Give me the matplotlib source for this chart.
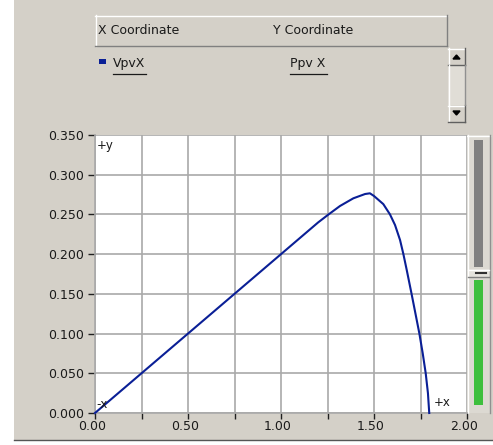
import matplotlib
matplotlib.use("Agg")
import matplotlib.pyplot as plt
from matplotlib.patches import Rectangle
from matplotlib.transforms import ScaledTranslation

# ---- data ----
vpv = [0.0, 0.25, 0.50, 0.75, 1.00, 1.20, 1.25, 1.317, 1.389, 1.452, 1.478, 1.50, 1.55,
       1.586, 1.613, 1.640, 1.658, 1.676, 1.702, 1.723, 1.744, 1.762, 1.778, 1.790, 1.797]
ppv = [0.0, 0.050, 0.100, 0.150, 0.200, 0.240, 0.249, 0.2606, 0.2703, 0.2757, 0.2766, 0.2732, 0.263,
       0.250, 0.2367, 0.2178, 0.200, 0.180, 0.150, 0.125, 0.100, 0.075, 0.050, 0.025, 0.0]
x_ticks = [0.0, 0.5, 1.0, 1.5, 2.0]
x_minor = [0.25, 0.75, 1.25, 1.75]
y_ticks = [0.0, 0.05, 0.10, 0.15, 0.20, 0.25, 0.30, 0.35]
x_col_title = "X Coordinate"
y_col_title = "Y Coordinate"
x_signal = "VpvX"
y_signal = "Ppv X"

W, H = 493, 445
BG = "#d4d0c8"
BLUE = "#0a1f96"
GRID = "#a9a9a9"
TXT = "#1a1a1a"

fig = plt.figure(figsize=(W / 100, H / 100), dpi=100)
fig.patch.set_facecolor("white")


def box(x0, y0, x1, y1):
    return [x0 / W, 1 - y1 / H, (x1 - x0) / W, (y1 - y0) / H]


# overlay axes in pixel coordinates
ov = fig.add_axes([0, 0, 1, 1])
ov.set_xlim(0, W)
ov.set_ylim(H, 0)
ov.axis("off")
ov.add_patch(Rectangle((14, 0), W - 14, 440, facecolor=BG, edgecolor="none"))
ov.plot([14, W], [440, 440], color="#555555", lw=1)
# legend header
ov.add_patch(Rectangle((95, 15), 352, 31, facecolor=BG, edgecolor="none"))
ov.plot([95, 447], [15.5, 15.5], color="white", lw=1)
ov.plot([95.5, 95.5], [15, 46], color="white", lw=1)
ov.plot([95, 447], [45.5, 45.5], color="#808080", lw=1)
ov.plot([446.5, 446.5], [15, 46], color="#808080", lw=1)
ov.text(98, 31, x_col_title, fontsize=9, color=TXT, va="center", ha="left")
ov.text(273, 31, y_col_title, fontsize=9, color=TXT, va="center", ha="left")
# legend row
ov.add_patch(Rectangle((99, 59), 7, 5, facecolor=BLUE, edgecolor="none"))
ov.text(113, 63, x_signal, fontsize=9, color=TXT, va="center", ha="left")
ov.plot([113, 146], [74, 74], color=TXT, lw=0.9)
ov.text(290, 63, y_signal, fontsize=9, color=TXT, va="center", ha="left")
ov.plot([290, 327], [74, 74], color=TXT, lw=0.9)
# scrollbar
for (y0, y1) in [(48, 65), (105, 122)]:
    ov.add_patch(Rectangle((448, y0), 17, y1 - y0, facecolor=BG, edgecolor="none"))
    ov.plot([448, 465], [y0 + 0.5, y0 + 0.5], color="white", lw=1)
    ov.plot([448.5, 448.5], [y0, y1], color="white", lw=1)
    ov.plot([448, 465], [y1 - 0.5, y1 - 0.5], color="#606060", lw=1)
    ov.plot([464.5, 464.5], [y0, y1], color="#606060", lw=1)
ov.add_patch(Rectangle((448, 65), 17, 40, facecolor="#e0ddd6", edgecolor="none"))
ov.plot([448.5, 448.5], [65, 105], color="white", lw=1)
ov.plot([464.5, 464.5], [65, 105], color="#909090", lw=1)
ov.add_patch(plt.Polygon([[453, 59], [460, 59], [456.5, 55]], color="black"))
ov.add_patch(plt.Polygon([[453, 111], [460, 111], [456.5, 115]], color="black"))
# slider at right
ov.add_patch(Rectangle((467, 135), 23, 278, facecolor="#dcd9d2", edgecolor="none"))
ov.plot([467.5, 467.5], [135, 413], color="white", lw=1)
ov.plot([467, 490], [135.5, 135.5], color="white", lw=1)
ov.plot([489.5, 489.5], [135, 413], color="#909090", lw=1)
ov.add_patch(Rectangle((474, 140), 9, 127, facecolor="#808080", edgecolor="none"))
ov.add_patch(Rectangle((474, 280), 9, 125, facecolor="#3dbf3d", edgecolor="none"))
ov.add_patch(Rectangle((468, 269), 21, 8, facecolor="#e4e2dc", edgecolor="none"))
ov.plot([468, 489], [269.5, 269.5], color="white", lw=1)
ov.plot([468, 489], [277, 277], color="#808080", lw=1)
ov.plot([476, 486], [273, 273], color="#303030", lw=1.5)

# main plot
ax = fig.add_axes(box(95, 135, 467, 413))
ax.set_facecolor("white")
ax.set_xlim(0, 2.0)
ax.set_ylim(0, 0.35)
ax.set_xticks(x_ticks)
ax.set_xticks(x_minor, minor=True)
ax.set_yticks(y_ticks)
ax.set_xticklabels([f"{v:.2f}" for v in x_ticks])
ax.set_yticklabels([f"{v:.3f}" for v in y_ticks])
ax.grid(True, which="both", color=GRID, lw=1.2)
for s in ["top", "right"]:
    ax.spines[s].set_visible(False)
for s in ["left", "bottom"]:
    ax.spines[s].set_color(GRID)
    ax.spines[s].set_linewidth(1.2)
ax.tick_params(axis="both", which="both", direction="out", length=4, width=1,
               color="#202020", labelsize=9, labelcolor=TXT)
ax.tick_params(axis="x", which="major", pad=1)
ax.tick_params(axis="y", length=5, pad=3)
shift = ScaledTranslation(-3 / 100, 0, fig.dpi_scale_trans)
for lbl in ax.get_xticklabels():
    lbl.set_transform(lbl.get_transform() + shift)
ax.plot(vpv, ppv, color=BLUE, lw=1.5, clip_on=False, zorder=3,
        solid_joinstyle="round")
ax.set_axisbelow(True)

ov2 = fig.add_axes([0, 0, 1, 1], facecolor="none")
ov2.set_xlim(0, W)
ov2.set_ylim(H, 0)
ov2.axis("off")
ov2.text(97, 146, "+y", fontsize=8.5, color=TXT, va="center", ha="left")
ov2.text(96, 404, "-x", fontsize=8.5, color=TXT, va="center", ha="left")
ov2.text(434, 403, "+x", fontsize=8.5, color=TXT, va="center", ha="left")

fig.savefig("out.png", dpi=100, facecolor=fig.get_facecolor())
